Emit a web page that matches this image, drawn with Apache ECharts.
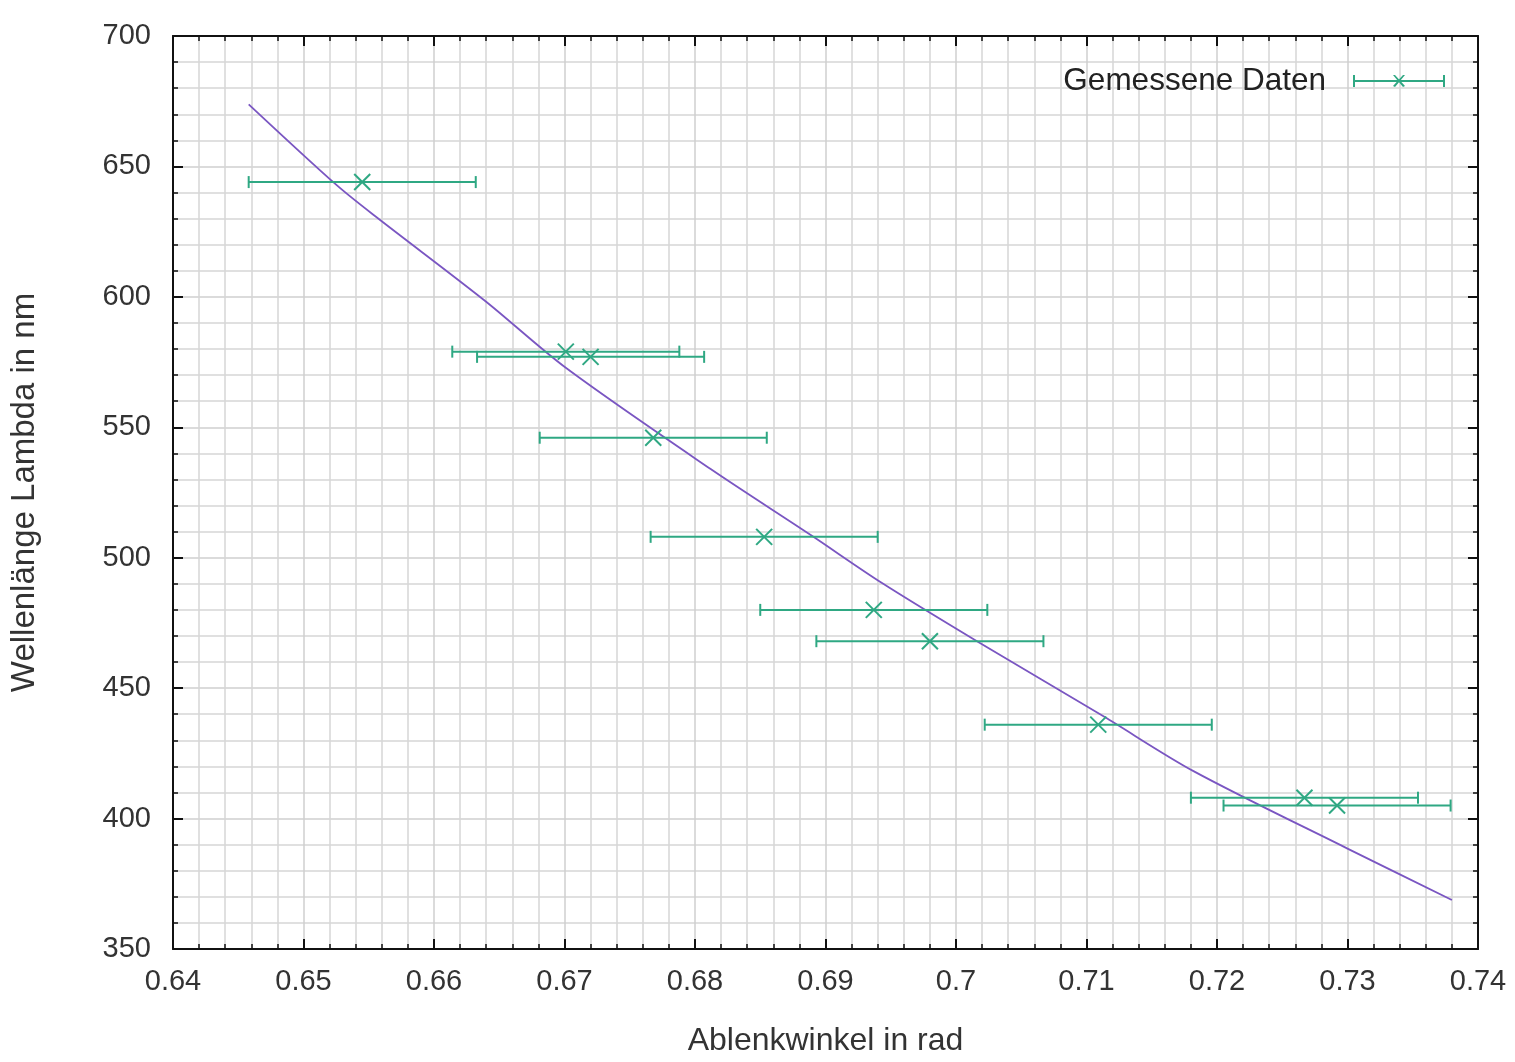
<!DOCTYPE html>
<html>
<head>
<meta charset="utf-8">
<title>Wellenlänge über Ablenkwinkel</title>
<script src="https://cdn.jsdelivr.net/npm/echarts@6/dist/echarts.min.js"></script>
<style>
  html, body { margin: 0; padding: 0; background: #fff; }
  #chart { width: 1515px; height: 1062px; }
</style>
</head>
<body>
<div id="chart"></div>
<script>
// gemessene Daten (Ablenkwinkel in rad, Wellenlaenge in nm)
const angles = [0.6545, 0.6701, 0.6720, 0.6768, 0.6853, 0.6937, 0.6980, 0.7109, 0.7267, 0.7292]
const wavelengths = [644, 579, 577, 546, 508, 480, 468, 436, 408, 405]
const angleErrors = [0.0087, 0.0087, 0.0087, 0.0087, 0.0087, 0.0087, 0.0087, 0.0087, 0.0087, 0.0087]

// Fitkurve
const fitAngles = [0.6458, 0.6525, 0.6556, 0.6639, 0.6701, 0.6812, 0.6889, 0.6943, 0.7018, 0.7113, 0.7182, 0.7300, 0.7380]
const fitWavelengths = [673.8, 643.0, 630.5, 598.5, 572.8, 534.0, 508.6, 490.4, 467.4, 439.2, 418.2, 388.5, 368.8]

const xMin = 0.64, xMax = 0.74, xStep = 0.01
const yMin = 350, yMax = 700, yStep = 50

const green = '#2fa883'
const purple = '#7a56c2'
const font = 'Liberation Sans, Arial, sans-serif'

const chart = echarts.init(document.getElementById('chart'))

const measured = angles.map((a, i) => [a, wavelengths[i], a - angleErrors[i], a + angleErrors[i]])
const fit = fitAngles.map((a, i) => [a, fitWavelengths[i]])

const renderErrorBar = (params, api) => {
  const c = api.coord([api.value(0), api.value(1)])
  const lo = api.coord([api.value(2), api.value(1)])
  const hi = api.coord([api.value(3), api.value(1)])
  const style = {stroke: green, lineWidth: 2}
  const cap = 6, m = 8
  return {
    type: 'group',
    children: [
      {type: 'line', shape: {x1: lo[0], y1: lo[1], x2: hi[0], y2: hi[1]}, style},
      {type: 'line', shape: {x1: lo[0], y1: lo[1] - cap, x2: lo[0], y2: lo[1] + cap}, style},
      {type: 'line', shape: {x1: hi[0], y1: hi[1] - cap, x2: hi[0], y2: hi[1] + cap}, style},
      {type: 'line', shape: {x1: c[0] - m, y1: c[1] - m, x2: c[0] + m, y2: c[1] + m}, style},
      {type: 'line', shape: {x1: c[0] - m, y1: c[1] + m, x2: c[0] + m, y2: c[1] - m}, style}
    ]
  }
}

const axisCommon = {
  axisLine: {show: true, onZero: false, lineStyle: {color: '#111', width: 2}},
  axisTick: {show: true, inside: true, length: 10, lineStyle: {color: '#111', width: 2}},
  minorTick: {show: true, splitNumber: 5, length: 5, lineStyle: {color: '#111', width: 1.5}},
  splitLine: {show: true, lineStyle: {color: '#cfcfcf', width: 1.5}},
  minorSplitLine: {show: true, lineStyle: {color: '#d6d6d6', width: 1.5}}
}

const option = {
  backgroundColor: '#fff',
  animation: false,
  textStyle: {fontFamily: font},
  grid: {left: 172, right: 37, top: 36, bottom: 109},
  legend: {
    data: ['Gemessene Daten'],
    right: 65,
    top: 60,
    align: 'right',
    itemWidth: 92,
    itemHeight: 14,
    icon: 'path://M0,6 L92,6 L92,8 L0,8 Z M0,1 L2,1 L2,13 L0,13 Z M90,1 L92,1 L92,13 L90,13 Z M40,1 L42,1 L52,12 L50,13 Z M50,1 L52,1 L42,13 L40,12 Z',
    textStyle: {fontSize: 31.5, color: '#222', fontFamily: font, padding: [0, 22, 0, 0]}
  },
  xAxis: [
    Object.assign({}, axisCommon, {
      type: 'value',
      min: xMin,
      max: xMax,
      interval: xStep,
      name: 'Ablenkwinkel in rad',
      nameLocation: 'middle',
      nameGap: 76,
      nameTextStyle: {fontSize: 32, color: '#333', fontFamily: font},
      axisLabel: {
        fontSize: 29, color: '#333', margin: 18, fontFamily: font,
        formatter: v => String(parseFloat(v.toFixed(2)))
      }
    }),
    Object.assign({}, axisCommon, {
      type: 'value',
      position: 'top',
      min: xMin,
      max: xMax,
      interval: xStep,
      axisLabel: {show: false},
      splitLine: {show: false},
      minorSplitLine: {show: false}
    })
  ],
  yAxis: [
    Object.assign({}, axisCommon, {
      type: 'value',
      min: yMin,
      max: yMax,
      interval: yStep,
      name: 'Wellenlänge Lambda in nm',
      nameLocation: 'middle',
      nameGap: 132,
      nameRotate: 90,
      nameTextStyle: {fontSize: 33, color: '#333', fontFamily: font},
      axisLabel: {fontSize: 29, color: '#333', margin: 22, fontFamily: font}
    }),
    Object.assign({}, axisCommon, {
      type: 'value',
      position: 'right',
      min: yMin,
      max: yMax,
      interval: yStep,
      axisLabel: {show: false},
      splitLine: {show: false},
      minorSplitLine: {show: false}
    })
  ],
  series: [
    {
      name: 'Fit',
      type: 'line',
      data: fit,
      showSymbol: false,
      smooth: 0.3,
      lineStyle: {color: purple, width: 1.8},
      itemStyle: {color: purple},
      z: 3
    },
    {
      name: 'Gemessene Daten',
      type: 'custom',
      data: measured,
      renderItem: renderErrorBar,
      encode: {x: [0, 2, 3], y: 1},
      itemStyle: {color: green},
      z: 4
    }
  ]
}

chart.setOption(option)
</script>
</body>
</html>
